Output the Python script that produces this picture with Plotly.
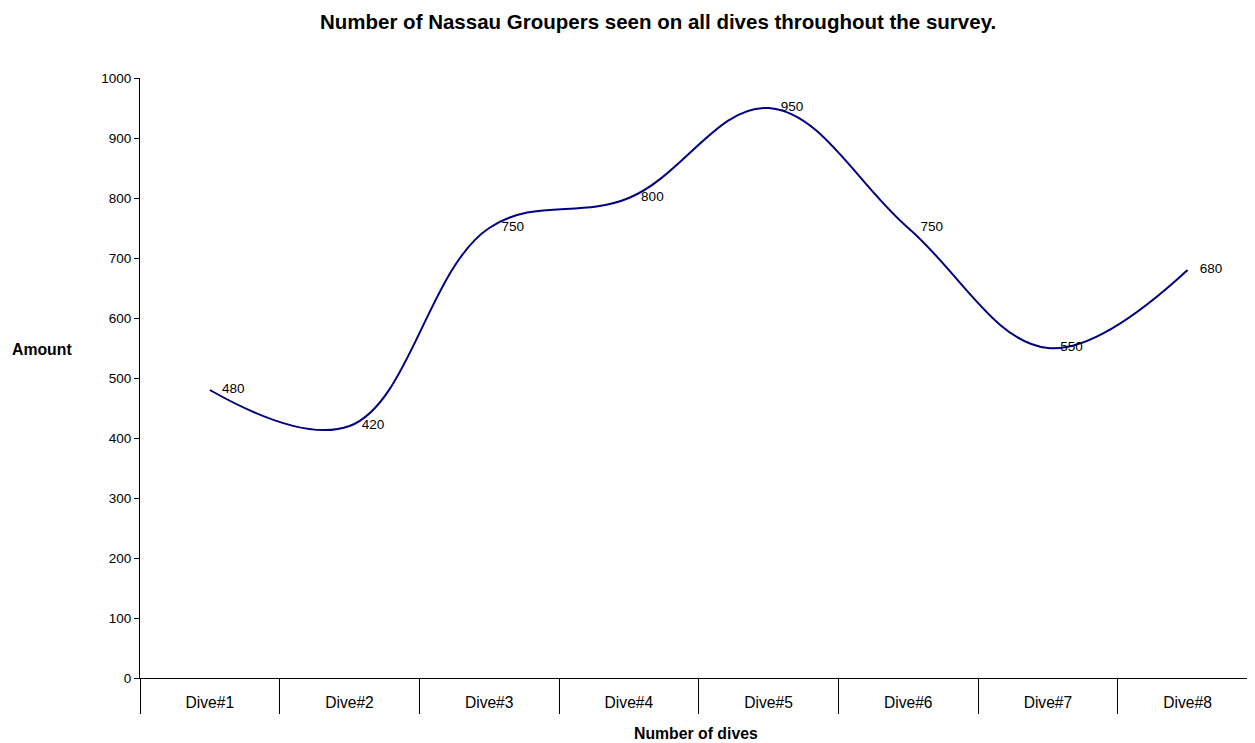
import plotly.graph_objects as go

# data
dives = ["Dive#1", "Dive#2", "Dive#3", "Dive#4", "Dive#5", "Dive#6", "Dive#7", "Dive#8"]
groupers = [480, 420, 750, 800, 950, 750, 550, 680]
y_ticks = [0, 100, 200, 300, 400, 500, 600, 700, 800, 900, 1000]

font = "Liberation Sans, Arial, sans-serif"

fig = go.Figure()

# smoothed line like the Excel original
fig.add_trace(go.Scatter(
    x=dives, y=groupers,
    mode="lines",
    line=dict(color="#000080", width=2, shape="spline", smoothing=1.1),
    hoverinfo="skip",
))

# value labels, pushed right of the points by an invisible marker
fig.add_trace(go.Scatter(
    x=dives, y=groupers,
    mode="markers+text",
    text=[str(v) for v in groupers],
    textposition="middle right",
    textfont=dict(family=font, size=13.5, color="black"),
    marker=dict(size=18, color="rgba(0,0,0,0)"),
    hoverinfo="skip",
))

# the page body adds an 8px offset, margins are set to compensate
fig.update_layout(
    width=1255, height=743,
    margin=dict(l=132, r=0, t=70, b=73),
    paper_bgcolor="white", plot_bgcolor="white",
    showlegend=False,
    font=dict(family=font, color="black"),
    title=dict(
        text="<b>Number of Nassau Groupers seen on all dives throughout the survey.</b>",
        x=0.518, xanchor="center", y=0.982, yanchor="middle",
        font=dict(size=20.5, family=font),
    ),
    annotations=[
        dict(text="<b>Amount</b>", xref="paper", yref="paper", x=-0.0875, y=0.548,
             xanchor="center", yanchor="middle", showarrow=False,
             font=dict(size=15.8, family=font)),
        dict(text="<b>Number of dives</b>", xref="paper", yref="paper", x=0.495, y=-0.0933,
             xanchor="center", yanchor="middle", showarrow=False,
             font=dict(size=15.8, family=font)),
    ],
)

fig.update_xaxes(
    type="category",
    range=[-0.5, 7.54],
    showline=True, linecolor="black", linewidth=1,
    ticks="outside", tickson="boundaries", ticklen=35, tickcolor="black",
    ticklabelstandoff=10,
    tickfont=dict(size=15.6, family=font),
    showgrid=False, zeroline=False,
)

fig.update_yaxes(
    range=[0, 1000],
    tickvals=y_ticks,
    showline=True, linecolor="black", linewidth=1,
    ticks="outside", ticklen=5, tickcolor="black",
    tickfont=dict(size=13.5, family=font),
    showgrid=False, zeroline=False,
)

fig.write_html("out.html")
